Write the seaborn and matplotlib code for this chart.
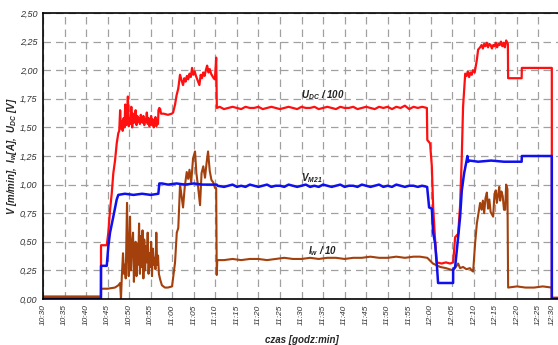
import matplotlib
matplotlib.use("Agg")
import matplotlib.pyplot as plt
import matplotlib.transforms as mtransforms
import seaborn as sns

# czas w minutach od 10:30
t_udc = [0, 3, 6, 9, 13.45, 13.47, 14.8, 15.16, 15.56, 15.95, 16.32, 16.72, 17.11, 17.48,
         17.7, 17.9, 18.1, 18.3, 18.5, 18.7, 18.9, 19.1, 19.3, 19.5, 19.7, 19.9, 20.1, 20.3,
         20.5, 20.7, 20.9, 21.1, 21.3, 21.5, 21.7, 21.9, 22.1, 22.3, 22.5, 22.7, 22.9, 23.1,
         23.3, 23.5, 23.7, 23.9, 24.1, 24.3, 24.5, 24.7, 24.9, 25.1, 25.3, 25.5, 25.7, 25.9,
         26.1, 26.3, 26.5, 26.7, 26.8, 27.0, 27.2, 27.4, 28.0, 29.0, 29.9, 30.2, 30.65, 31.0,
         31.4, 31.8, 32.1, 32.5, 32.8, 33.1, 33.4, 33.7, 34.0, 34.3, 34.6, 34.9, 35.2, 35.5,
         36.0, 36.3, 36.6, 36.9, 37.2, 37.5, 37.8, 38.1, 38.4, 38.7, 39.0, 39.3, 39.6, 39.9,
         40.2, 40.35,
         41, 42, 43, 44, 45, 46, 47, 48, 49, 50, 51, 52, 53, 54, 55, 56, 57, 58, 59, 60,
         61, 62, 63, 64, 65, 66, 67, 68, 69, 70, 71, 72, 73, 74, 75, 76, 77, 78, 79, 80,
         81, 82, 83, 84, 85, 86, 87, 88, 89.1,
         89.2, 89.85, 90.25, 90.55, 91.0, 91.4, 92.5, 93.5, 94.5, 95.2, 95.66, 96.36, 96.8,
         97.2, 97.5, 97.75, 98.0, 98.3, 98.6, 98.9, 99.2, 99.5, 99.8, 100.2, 100.7, 101.0,
         101.46, 101.8, 102.1, 102.4, 102.7, 103.0, 103.3, 103.6, 103.9, 104.2, 104.5, 104.8,
         105.1, 105.4, 105.7, 106.0, 106.3, 106.6, 106.9, 107.2, 107.5, 107.9, 107.96, 111.1,
         111.14, 118.1, 118.11, 120]
udc = [0.02, 0.02, 0.02, 0.02, 0.02, 0.47, 0.47, 0.58, 0.78, 0.92, 1.10, 1.21, 1.36, 1.45,
       1.47, 1.65, 1.49, 1.55, 1.47, 1.58, 1.50, 1.70, 1.52, 1.60, 1.77, 1.51, 1.58, 1.53,
       1.68, 1.50, 1.62, 1.54, 1.57, 1.65, 1.52, 1.60, 1.55, 1.58, 1.53, 1.61, 1.56, 1.54,
       1.60, 1.52, 1.57, 1.55, 1.63, 1.53, 1.58, 1.51, 1.56, 1.60, 1.52, 1.57, 1.50, 1.55,
       1.59, 1.51, 1.56, 1.53, 1.65, 1.67, 1.66, 1.62, 1.62, 1.61, 1.62, 1.63, 1.70, 1.78,
       1.84, 1.96, 1.92, 1.87, 1.93, 1.90, 1.95, 1.92, 1.97, 1.94, 2.02, 1.96, 1.99, 1.95,
       1.90, 1.87, 1.96, 1.93, 1.98, 1.95, 2.00, 2.04, 1.98, 2.01, 1.97, 1.95, 1.93, 1.92,
       2.11, 1.67,
       1.68, 1.66, 1.67, 1.68, 1.67, 1.66, 1.68, 1.67, 1.67, 1.68, 1.66, 1.67, 1.68, 1.67,
       1.66, 1.67, 1.68, 1.67, 1.66, 1.68, 1.67, 1.67, 1.68, 1.66, 1.67, 1.68, 1.67, 1.66,
       1.68, 1.67, 1.67, 1.68, 1.66, 1.67, 1.68, 1.67, 1.66, 1.68, 1.67, 1.68, 1.66, 1.68,
       1.67, 1.69, 1.66, 1.68, 1.67, 1.68, 1.67,
       1.39, 1.36, 1.16, 0.81, 0.52, 0.32, 0.31, 0.32, 0.31, 0.32, 0.54, 0.57, 0.81,
       1.24, 1.68, 1.83, 1.97, 1.95, 1.99, 1.94, 1.98, 1.96, 2.00, 1.98, 2.09, 2.18,
       2.20, 2.22, 2.19, 2.23, 2.21, 2.24, 2.20, 2.23, 2.22, 2.19, 2.22, 2.21,
       2.24, 2.20, 2.23, 2.22, 2.25, 2.21, 2.24, 2.20, 2.26, 2.23, 1.93, 1.93,
       2.02, 2.02, 0.01, 0.01]

t_v = [0, 13.45, 13.47, 14.8, 15.16, 15.56, 16.32, 17.11, 17.48, 19, 21, 23, 25, 26.77,
       27.0, 27.63, 29, 31, 33, 35, 37, 39, 40.3, 40.5,
       42, 43, 44, 45, 46, 47, 48, 49, 50, 51, 52, 53, 54, 55, 56, 57, 58, 59, 60, 61,
       62, 63, 64, 65, 66, 67, 68, 69, 70, 71, 72, 73, 74, 75, 76, 77, 78, 79, 80, 81,
       82, 83, 84, 85, 86, 87, 88, 89.16,
       89.62, 90.25, 90.55, 91.0, 91.45, 91.7, 95.19, 95.2, 95.66, 96.36, 96.82, 97.21,
       97.75, 98.37, 98.5, 98.7, 99.0, 101, 104, 107, 111.1, 111.14, 118.1, 118.11, 120]
v_m21 = [0.0, 0.0, 0.29, 0.29, 0.46, 0.58, 0.72, 0.87, 0.91, 0.92, 0.91, 0.92, 0.91, 0.92,
         1.01, 1.01, 1.00, 1.01, 1.00, 1.01, 1.00, 1.00, 1.00, 0.99,
         0.98, 0.99, 1.00, 0.98, 0.99, 0.98, 1.00, 0.99, 0.98, 0.99, 1.00, 0.98, 0.99, 0.99,
         0.98, 1.00, 0.99, 0.98, 0.99, 1.00, 0.98, 0.99, 0.98, 1.00, 0.99, 0.98, 0.99, 1.00,
         0.98, 0.99, 0.99, 0.98, 1.00, 0.99, 0.98, 0.99, 1.00, 0.98, 0.99, 0.98, 1.00, 0.99,
         0.98, 0.99, 0.99, 0.98, 0.99, 0.98,
         0.80, 0.79, 0.58, 0.49, 0.28, 0.14, 0.14, 0.26, 0.28, 0.54, 0.72, 0.95,
         1.10, 1.22, 1.25, 1.20, 1.21, 1.20, 1.21, 1.20, 1.20, 1.25, 1.25, 0.0, 0.0]

t_iw = [0, 13.45, 13.47, 15, 16.7, 17.5, 17.9, 18.1, 18.3, 18.57, 18.8, 19.0, 19.2, 19.5,
        19.74, 19.9, 20.2, 20.4, 20.6, 20.9, 21.1, 21.3, 21.5, 21.7, 21.9, 22.1, 22.3, 22.5,
        22.7, 22.9, 23.1, 23.3, 23.5, 23.7, 23.9, 24.1, 24.3, 24.5, 24.7, 24.9, 25.1, 25.3,
        25.5, 25.7, 25.9, 26.1, 26.3, 26.5, 26.7, 26.9, 27.2, 27.6, 28.3, 29.0, 29.95, 30.18,
        30.65, 31.05, 31.4, 31.81, 32.1, 32.51, 32.9, 33.36, 33.7, 34.0, 34.4, 34.83, 35.29,
        35.6, 36.0, 36.45, 36.8, 37.2, 37.6, 38.0, 38.31, 38.7, 39.1, 39.5, 39.93, 40.2,
        40.33, 40.45,
        42, 44, 46, 48, 50, 52, 54, 56, 58, 60, 62, 64, 66, 68, 70, 72, 74, 76, 78, 80,
        82, 84, 86, 87.5,
        89.2, 90.5, 92.2, 93.5, 95.2, 96.0, 96.36, 96.8, 97.5, 98.3, 99.1, 99.5, 99.84,
        100.3, 100.7, 101.0, 101.46, 101.8, 102.1, 102.4, 102.7, 103.02, 103.3, 103.6,
        103.9, 104.2, 104.48, 104.8, 105.1, 105.34, 105.6, 105.9, 106.11, 106.4, 106.7,
        107.0, 107.27, 107.5, 107.8, 107.96, 110, 112, 114, 116, 118.1, 118.11, 120]
iw = [0.02, 0.02, 0.09, 0.09, 0.10, 0.12, 0.14, 0.0, 0.20, 0.40, 0.22, 0.30, 0.18, 0.84,
      0.34, 0.20, 0.72, 0.25, 0.45, 0.58, 0.15, 0.42, 0.50, 0.20, 0.48, 0.30, 0.66, 0.22,
      0.55, 0.28, 0.60, 0.18, 0.52, 0.25, 0.46, 0.32, 0.58, 0.22, 0.40, 0.28, 0.50, 0.20,
      0.44, 0.30, 0.36, 0.26, 0.58, 0.30, 0.38, 0.22, 0.17, 0.12, 0.10, 0.10, 0.11, 0.18,
      0.32, 0.58, 0.62, 1.00, 0.92, 0.80, 0.98, 1.11, 1.05, 1.13, 1.02, 1.23, 1.29,
      1.10, 0.98, 0.82, 1.10, 1.16, 1.06, 1.20, 1.29, 1.12, 1.04, 1.02, 0.97, 0.97,
      0.21, 0.34,
      0.34, 0.35, 0.34, 0.35, 0.35, 0.34, 0.35, 0.36, 0.35, 0.35, 0.36, 0.35, 0.36, 0.36,
      0.35, 0.36, 0.36, 0.37, 0.36, 0.36, 0.37, 0.36, 0.37, 0.37,
      0.36, 0.31, 0.28, 0.27, 0.25, 0.29, 0.31, 0.27, 0.28, 0.26, 0.27, 0.25, 0.24,
      0.49, 0.66, 0.73, 0.84, 0.78, 0.86, 0.75, 0.88, 0.93, 0.79, 0.87,
      0.76, 0.74, 0.72, 0.92, 0.95, 0.84, 0.90, 0.98, 0.86, 0.94, 0.90,
      0.78, 0.78, 1.00, 0.96, 0.10, 0.11, 0.10, 0.10, 0.11, 0.10, 0.01, 0.01]

x_labels = ["10:30", "10:35", "10:40", "10:45", "10:50", "10:55", "11:00", "11:05",
            "11:10", "11:15", "11:20", "11:25", "11:30", "11:35", "11:40", "11:45",
            "11:50", "11:55", "12:00", "12:05", "12:10", "12:15", "12:20", "12:25", "12:30"]
y_labels = ["0,00", "0,25", "0,50", "0,75", "1,00", "1,25", "1,50", "1,75",
            "2,00", "2,25", "2,50"]

sns.set_style("white")
plt.rcParams["font.family"] = ["Liberation Sans", "DejaVu Sans"]
plt.rcParams["mathtext.fontset"] = "custom"
plt.rcParams["mathtext.rm"] = "Liberation Sans:bold:italic"
plt.rcParams["mathtext.it"] = "Liberation Sans:bold:italic"
plt.rcParams["mathtext.default"] = "rm"

fig = plt.figure(figsize=(5.58, 3.45), dpi=100)
ax = fig.add_axes([43 / 558, 46 / 345, 517 / 558, 286 / 345])

sns.lineplot(x=t_udc, y=udc, ax=ax, color="#ff1010", lw=1.6, sort=False, estimator=None)
sns.lineplot(x=t_iw, y=iw, ax=ax, color="#a3400c", lw=1.5, sort=False, estimator=None)
sns.lineplot(x=t_v, y=v_m21, ax=ax, color="#1010ee", lw=1.8, sort=False, estimator=None)

ax.set_xlim(0, 120)
ax.set_ylim(0, 2.5)
ax.set_xticks(range(0, 121, 5))
ax.set_xticklabels(x_labels, rotation=90, fontsize=6, style="italic", color="#333333")
ax.set_yticks([i * 0.25 for i in range(11)])
ax.set_yticklabels(y_labels, fontsize=6.5, style="italic", color="#333333")
ax.tick_params(length=0, pad=4)

# ostatnia etykieta (12:30) wypada na krawedzi - przesuniecie w lewo
last = ax.get_xticklabels()[-1]
last.set_horizontalalignment("right")
last.set_transform(last.get_transform()
                   + mtransforms.ScaledTranslation(-3 / 72, 0, fig.dpi_scale_trans))

ax.grid(True, color="#a0a0a0", lw=0.9, linestyle=(0, (6, 4)))
ax.set_axisbelow(True)
for s in ["left", "bottom", "top"]:
    ax.spines[s].set_color("black")
    ax.spines[s].set_linewidth(1.2)
ax.spines["right"].set_visible(False)

ax.set_xlabel("czas [godz:min]", fontsize=7, fontweight="bold", style="italic")
ax.xaxis.set_label_coords(0.5, -0.125)
ax.set_ylabel(r"V [m/min],  I$_{w}$[A],  U$_{DC}$ [V]", fontsize=7,
              fontweight="bold", style="italic")
ax.yaxis.set_label_coords(-0.047, 0.5)

ax.text(65.0, 1.78, r"U$_{DC}$ / 100", fontsize=7, fontweight="bold", style="italic",
        ha="center", va="center", color="#222222")
ax.text(62.3, 1.06, r"V$_{M21}$", fontsize=7, fontweight="bold", style="italic",
        ha="center", va="center", color="#222222")
ax.text(64.8, 0.42, r"I$_{w}$ / 10", fontsize=7, fontweight="bold", style="italic",
        ha="center", va="center", color="#222222")

fig.savefig("out.png", dpi=100)
